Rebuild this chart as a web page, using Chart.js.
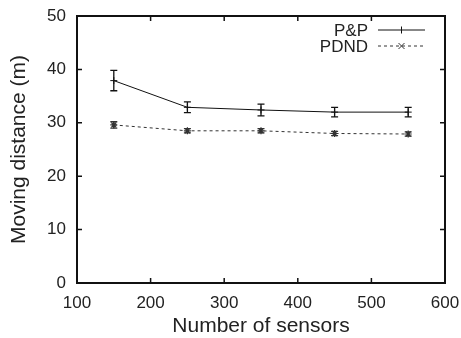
<!DOCTYPE html>
<html>
<head>
<meta charset="utf-8">
<script src="https://cdn.jsdelivr.net/npm/chart.js@4/dist/chart.umd.min.js"></script>
<style>
  html, body { margin: 0; padding: 0; background: #fff; }
  #wrap { width: 461px; height: 338px; }
</style>
</head>
<body>
<div id="wrap"><canvas id="c"></canvas></div>
<script>
var sensors = [150, 250, 350, 450, 550];
var ppMean = [37.9, 32.9, 32.4, 32.0, 32.0];
var ppErr = [1.9, 1.0, 1.1, 0.9, 0.9];
var pdndMean = [29.6, 28.5, 28.5, 28.0, 27.9];
var pdndErr = [0.6, 0.4, 0.4, 0.4, 0.4];
var xTicks = [100, 200, 300, 400, 500, 600];
var yTicks = [0, 10, 20, 30, 40, 50];

Chart.defaults.font.family = "'Liberation Sans', Arial, sans-serif";
Chart.defaults.color = '#222';

function toPoints(xs, ys) {
    return xs.map(function(x, i) { return { x: x, y: ys[i] }; });
}

// gnuplot-like frame with inward ticks on all four sides
var framePlugin = {
    id: 'frame',
    afterDraw: function(chart) {
        var ctx = chart.ctx, a = chart.chartArea;
        var xs = chart.scales.x, ys = chart.scales.y;
        ctx.save();
        ctx.strokeStyle = '#111';
        ctx.lineWidth = 1.5;
        xTicks.forEach(function(v) {
            var px = xs.getPixelForValue(v);
            ctx.beginPath();
            ctx.moveTo(px, a.bottom); ctx.lineTo(px, a.bottom - 5);
            ctx.moveTo(px, a.top); ctx.lineTo(px, a.top + 5);
            ctx.stroke();
        });
        yTicks.forEach(function(v) {
            var py = ys.getPixelForValue(v);
            ctx.beginPath();
            ctx.moveTo(a.left, py); ctx.lineTo(a.left + 5, py);
            ctx.moveTo(a.right, py); ctx.lineTo(a.right - 5, py);
            ctx.stroke();
        });
        ctx.lineWidth = 2;
        ctx.strokeRect(a.left, a.top, a.right - a.left, a.bottom - a.top);
        ctx.restore();
    }
};

// vertical error bars with caps
var errorBarPlugin = {
    id: 'errbars',
    afterDatasetsDraw: function(chart) {
        var ctx = chart.ctx;
        var xs = chart.scales.x, ys = chart.scales.y;
        chart.data.datasets.forEach(function(ds) {
            ctx.save();
            ctx.strokeStyle = ds.borderColor;
            ctx.lineWidth = 1.3;
            ds.data.forEach(function(p, i) {
                var px = xs.getPixelForValue(p.x);
                var top = ys.getPixelForValue(p.y + ds.errors[i]);
                var bot = ys.getPixelForValue(p.y - ds.errors[i]);
                ctx.beginPath();
                ctx.moveTo(px, top); ctx.lineTo(px, bot);
                ctx.moveTo(px - 3.5, top); ctx.lineTo(px + 3.5, top);
                ctx.moveTo(px - 3.5, bot); ctx.lineTo(px + 3.5, bot);
                ctx.stroke();
            });
            ctx.restore();
        });
    }
};

// legend inside the top right corner, text left of the sample line
var keyPlugin = {
    id: 'key',
    afterDraw: function(chart) {
        var ctx = chart.ctx, a = chart.chartArea;
        ctx.save();
        ctx.font = "17px 'Liberation Sans', Arial, sans-serif";
        ctx.textAlign = 'right';
        ctx.textBaseline = 'middle';
        chart.data.datasets.forEach(function(ds, i) {
            var y = a.top + 14 + i * 16;
            var x0 = a.right - 67, x1 = a.right - 20;
            ctx.fillStyle = '#222';
            ctx.fillText(ds.label, x0 - 10, y + 1);
            ctx.strokeStyle = ds.borderColor;
            ctx.lineWidth = 1;
            ctx.setLineDash(ds.borderDash || []);
            ctx.beginPath(); ctx.moveTo(x0, y); ctx.lineTo(x1, y); ctx.stroke();
            ctx.setLineDash([]);
            var xm = (x0 + x1) / 2;
            ctx.beginPath();
            if (ds.pointStyle === 'cross') {
                ctx.moveTo(xm, y - 3.5); ctx.lineTo(xm, y + 3.5);
            } else {
                ctx.moveTo(xm - 3, y - 3); ctx.lineTo(xm + 3, y + 3);
                ctx.moveTo(xm - 3, y + 3); ctx.lineTo(xm + 3, y - 3);
            }
            ctx.stroke();
        });
        ctx.restore();
    }
};

new Chart(document.getElementById('c'), {
    type: 'line',
    data: {
        datasets: [{
            label: 'P&P',
            data: toPoints(sensors, ppMean),
            errors: ppErr,
            borderColor: '#111',
            borderWidth: 1,
            pointStyle: 'cross',
            pointRadius: 3.5,
            pointBorderWidth: 1,
            tension: 0
        }, {
            label: 'PDND',
            data: toPoints(sensors, pdndMean),
            errors: pdndErr,
            borderColor: '#333',
            borderWidth: 1,
            borderDash: [3, 3],
            pointStyle: 'star',
            pointRadius: 3.5,
            pointBorderWidth: 1.2,
            tension: 0
        }]
    },
    options: {
        responsive: true,
        maintainAspectRatio: false,
        animation: false,
        layout: { padding: { left: 7, right: 16, top: 16, bottom: 0 } },
        plugins: { legend: { display: false }, tooltip: { enabled: false } },
        scales: {
            x: {
                type: 'linear',
                min: 100, max: 600,
                afterBuildTicks: function(s) { s.ticks = xTicks.map(function(v) { return { value: v }; }); },
                afterFit: function(s) { s.height = 55; s.paddingLeft = 0; s.paddingRight = 0; },
                grid: { display: false, drawTicks: false },
                border: { display: false },
                ticks: { font: { size: 17 }, color: '#222', padding: 10, maxRotation: 0 },
                title: { display: true, text: 'Number of sensors', font: { size: 21 }, color: '#222', padding: { top: 0, bottom: -1 } }
            },
            y: {
                min: 0, max: 50,
                afterBuildTicks: function(s) { s.ticks = yTicks.map(function(v) { return { value: v }; }); },
                afterFit: function(s) { s.width = 70; s.paddingTop = 0; s.paddingBottom = 0; },
                grid: { display: false, drawTicks: false },
                border: { display: false },
                ticks: { font: { size: 17 }, color: '#222', padding: 11 },
                title: { display: true, text: 'Moving distance (m)', font: { size: 21 }, color: '#222', padding: { top: 0, bottom: 0 } }
            }
        }
    },
    plugins: [framePlugin, errorBarPlugin, keyPlugin]
});
</script>
</body>
</html>
